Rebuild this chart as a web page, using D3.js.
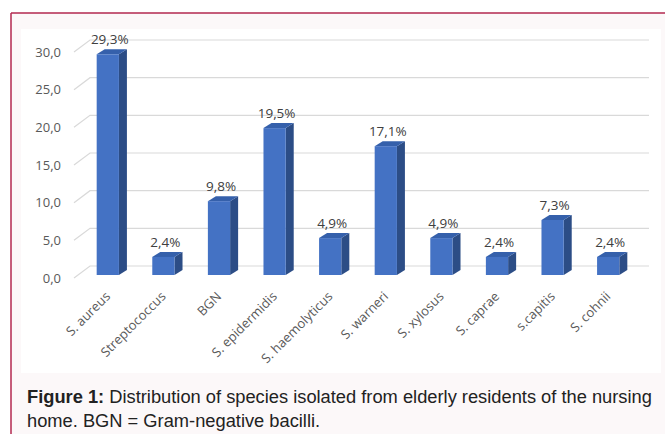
<!DOCTYPE html>
<html>
<head>
<meta charset="utf-8">
<script src="https://cdn.jsdelivr.net/npm/d3@7"></script>
<style>
    html, body { margin: 0; padding: 0; background: #ffffff; }
    svg { display: block; }
</style>
</head>
<body>
<div id="chart"></div>
<script>
"use strict";

var categories = [
    "S. aureus", "Streptococcus", "BGN", "S. epidermidis", "S. haemolyticus",
    "S. warneri", "S. xylosus", "S. caprae", "s.capitis", "S. cohnii"
];
var values = [29.3, 2.4, 9.8, 19.5, 4.9, 17.1, 4.9, 2.4, 7.3, 2.4];
var yTicks = [0, 5, 10, 15, 20, 25, 30];

var W = 665, H = 434;
var DepthX = 16, DepthY = 12;   // grid wall depth
var BarDX = 8, BarDY = 5;       // bar depth

var svg = d3.select("#chart")
    .append("svg")
    .attr("width", W)
    .attr("height", H);

// frame
svg.append("rect").attr("x", 11).attr("y", 13).attr("width", W - 11).attr("height", H - 13)
    .attr("fill", "#fcf8f9");
svg.append("line").attr("x1", 11).attr("x2", 11).attr("y1", 13).attr("y2", H)
    .attr("stroke", "#b3284f").attr("stroke-width", 1.5);
svg.append("line").attr("x1", 11).attr("x2", W).attr("y1", 13).attr("y2", 13)
    .attr("stroke", "#b3284f").attr("stroke-width", 1.5);
svg.append("rect").attr("x", 21).attr("y", 29).attr("width", 640).attr("height", 344)
    .attr("fill", "#ffffff");

var x = d3.scaleBand()
    .domain(categories)
    .range([80, 636])
    .paddingInner(0.6)
    .paddingOuter(0.3);

var y = d3.scaleLinear()
    .domain([0, 30])
    .range([278, 52]);

function fmt(v) {
    return d3.format(".1f")(v).replace(".", ",");
}

// gridlines: side wall diagonal + back wall
var grid = svg.append("g").attr("class", "grid");
grid.selectAll("path")
    .data(yTicks)
    .enter()
    .append("path")
    .attr("d", function (d) {
        return "M74," + y(d) + "L" + (74 + DepthX) + "," + (y(d) - DepthY) + "L649," + (y(d) - DepthY);
    })
    .attr("fill", "none")
    .attr("stroke", "#d9d9d9")
    .attr("stroke-width", 1.2);

// y labels
svg.append("g").selectAll("text")
    .data(yTicks)
    .enter()
    .append("text")
    .attr("x", 61)
    .attr("y", function (d) { return y(d); })
    .attr("dy", "0.35em")
    .attr("text-anchor", "end")
    .attr("font-family", "Open Sans, sans-serif")
    .attr("font-size", 13)
    .attr("fill", "#595959")
    .text(fmt);

// bars
var bars = svg.append("g").selectAll("g")
    .data(categories)
    .enter()
    .append("g");

bars.each(function (c, i) {
    var g = d3.select(this);
    var x0 = x(c), w = x.bandwidth();
    var base = y(0) - 3, top = y(values[i]) - 3;
    g.append("path")
        .attr("d", "M" + (x0 + w) + "," + top + "L" + (x0 + w + BarDX) + "," + (top - BarDY) +
            "L" + (x0 + w + BarDX) + "," + (base - BarDY) + "L" + (x0 + w) + "," + base + "Z")
        .attr("fill", "#2c4d86");
    g.append("path")
        .attr("d", "M" + x0 + "," + top + "L" + (x0 + w) + "," + top + "L" + (x0 + w + BarDX) + "," + (top - BarDY) +
            "L" + (x0 + BarDX) + "," + (top - BarDY) + "Z")
        .attr("fill", "#3560ab");
    g.append("rect")
        .attr("x", x0)
        .attr("y", top)
        .attr("width", w)
        .attr("height", base - top)
        .attr("fill", "#4472c4");
    g.append("text")
        .attr("x", x0 + w / 2 + 2)
        .attr("y", top - BarDY - 5)
        .attr("text-anchor", "middle")
        .attr("font-family", "Open Sans, sans-serif")
        .attr("font-size", 13.5)
        .attr("fill", "#404040")
        .text(fmt(values[i]) + "%");
});

// x labels
svg.append("g").selectAll("text")
    .data(categories)
    .enter()
    .append("text")
    .attr("transform", function (d) {
        return "translate(" + (x(d) + x.bandwidth() / 2) + "," + 294 + ") rotate(-45)";
    })
    .attr("text-anchor", "end")
    .attr("dy", "0.35em")
    .attr("font-family", "Open Sans, sans-serif")
    .attr("font-size", 13)
    .attr("fill", "#595959")
    .text(function (d) { return d; });

// caption
var cap = svg.append("text")
    .attr("font-family", "Liberation Sans, Arial, sans-serif")
    .attr("font-size", 18.3)
    .attr("fill", "#222222");
var l1 = cap.append("tspan").attr("x", 27).attr("y", 403);
l1.append("tspan").attr("font-weight", "bold").text("Figure 1:");
l1.append("tspan").text(" Distribution of species isolated from elderly residents of the nursing");
cap.append("tspan").attr("x", 27).attr("y", 427).text("home. BGN = Gram-negative bacilli.");
</script>
</body>
</html>
